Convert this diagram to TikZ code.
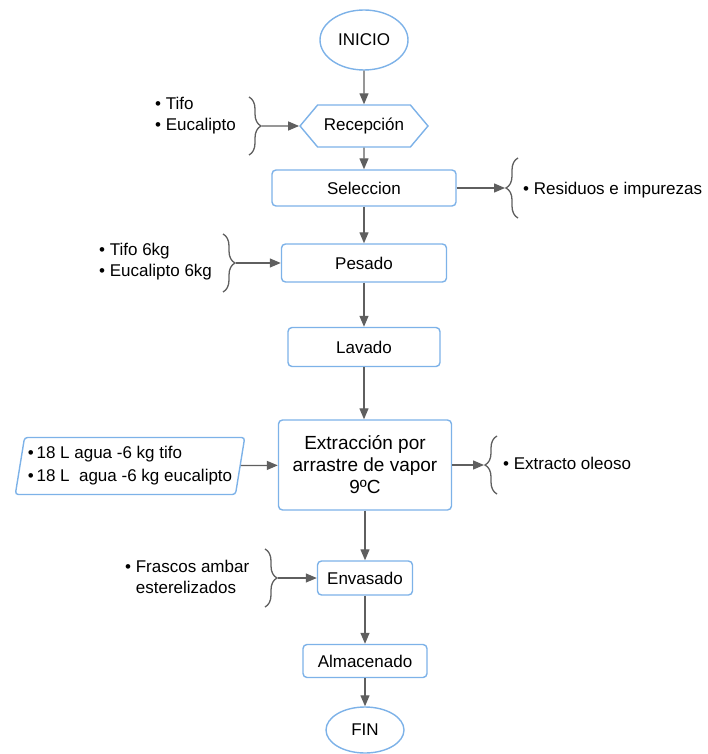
\documentclass[tikz,border=0pt]{standalone}
\usepackage{fontspec}
\setmainfont{Liberation Sans}
\usetikzlibrary{shapes.geometric,shapes.symbols,decorations.pathreplacing,arrows.meta}
\definecolor{borde}{RGB}{125,178,232}
\definecolor{gris}{RGB}{95,95,95}

\tikzstyle{proceso}=[draw=borde,line width=1.4pt,rounded corners=4pt,fill=white,inner sep=0pt,font=\fontsize{17}{20}\selectfont]
\tikzstyle{terminal}=[draw=borde,line width=1.4pt,ellipse,fill=white,inner sep=0pt,font=\fontsize{17}{20}\selectfont]
\tikzstyle{recibo}=[draw=borde,line width=1.4pt,signal,signal to=west and east,signal pointer angle=100,fill=white,inner sep=0pt,font=\fontsize{17}{20}\selectfont]
\tikzstyle{datos}=[draw=borde,line width=1.4pt,trapezium,trapezium left angle=77,trapezium right angle=103,trapezium stretches=true,rounded corners=3pt,inner sep=0pt,align=left,font=\fontsize{17}{23}\selectfont]
\tikzstyle{nota}=[anchor=west,align=left,inner sep=0pt,font=\fontsize{17}{21}\selectfont]
\tikzstyle{flecha}=[gris,line width=1.3pt,-{Triangle[length=11pt,width=9pt]}]
\tikzstyle{llave}=[gris,line width=1.3pt,decorate,decoration={brace,amplitude=12pt}]

\begin{document}
\begin{tikzpicture}[x=1pt,y=-1pt]
    \useasboundingbox (0,0) rectangle (707,754);

    \node (inicio)[terminal,minimum width=88pt,minimum height=60pt] at (364,40) {INICIO};
    \node (recepcion)[recibo,minimum width=128pt,minimum height=42pt] at (364,126) {Recepción};
    \node (seleccion)[proceso,minimum width=184pt,minimum height=36pt] at (364,188) {Seleccion};
    \node (pesado)[proceso,minimum width=165pt,minimum height=38pt] at (364,263) {Pesado};
    \node (lavado)[proceso,minimum width=152pt,minimum height=39pt] at (364,347) {Lavado};
    \node (extraccion)[proceso,minimum width=173pt,minimum height=90pt,align=center,font=\fontsize{19}{22}\selectfont] at (365,465) {Extracción por\\arrastre de vapor\\9ºC};
    \node (envasado)[proceso,minimum width=95pt,minimum height=34pt] at (365,578) {Envasado};
    \node (almacenado)[proceso,minimum width=124pt,minimum height=33pt] at (365,661) {Almacenado};
    \node (fin)[terminal,minimum width=78pt,minimum height=46pt] at (365,730) {FIN};

    \node (agua)[datos,minimum width=230pt,minimum height=57pt] at (130,466) {\textbullet\,18 L agua -6 kg tifo\\\textbullet\,18 L\ \ agua -6 kg eucalipto};

    % entradas y salidas
    \node (materia)[nota] at (155,116) {\textbullet\ Tifo\\\textbullet\ Eucalipto};
    \node (residuos)[nota] at (523,190) {\textbullet\ Residuos e impurezas};
    \node (peso)[nota] at (99,262) {\textbullet\ Tifo 6kg\\\textbullet\ Eucalipto 6kg};
    \node (extracto)[nota] at (503,463) {\textbullet\ Extracto oleoso};
    \node (frascos)[nota] at (125,577) {\textbullet\ Frascos ambar\\\phantom{\textbullet\ }esterelizados};

    \draw[llave] (249,97) -- (249,155);
    \coordinate (b1) at (262,126);
    \draw[llave] (518,218) -- (518,158);
    \coordinate (b2) at (505,188);
    \draw[llave] (223,234) -- (223,292);
    \coordinate (b3) at (236,263);
    \draw[llave] (497,494) -- (497,436);
    \coordinate (b4) at (484,465);
    \draw[llave] (265,549) -- (265,607);
    \coordinate (b5) at (278,578);

    \draw[flecha] (inicio) -- (recepcion);
    \draw[flecha] (recepcion) -- (seleccion);
    \draw[flecha] (seleccion) -- (pesado);
    \draw[flecha] (pesado) -- (lavado);
    \draw[flecha] (lavado) -- (lavado |- extraccion.north);
    \draw[flecha] (extraccion) -- (envasado);
    \draw[flecha] (envasado) -- (almacenado);
    \draw[flecha] (almacenado) -- (fin);

    \draw[flecha] (b1) -- (recepcion);
    \draw[flecha] (seleccion) -- (b2);
    \draw[flecha] (b3) -- (pesado);
    \draw[flecha] (agua) -- (extraccion);
    \draw[flecha] (extraccion) -- (b4);
    \draw[flecha] (b5) -- (envasado);
\end{tikzpicture}
\end{document}
